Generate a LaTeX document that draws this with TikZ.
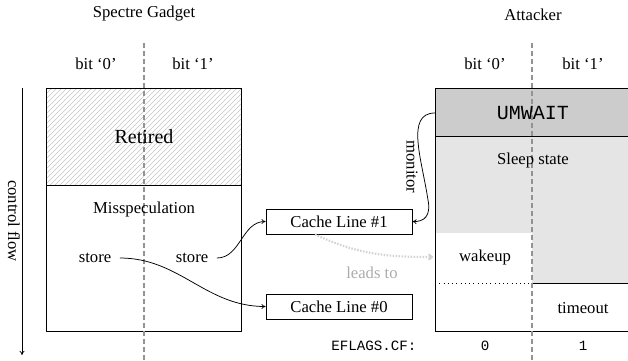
\documentclass[tikz,border=0pt]{standalone}
\usepackage{fontspec}
\setmainfont{Liberation Serif}
\setmonofont{Liberation Mono}
\usetikzlibrary{arrows.meta,patterns,calc}

\begin{document}
\begin{tikzpicture}[x=0.6pt,y=-0.6pt,
  lbl/.style={inner sep=0pt, font=\fontsize{10}{12}\selectfont},
  biglbl/.style={inner sep=0pt, font=\fontsize{12}{14}\selectfont},
  ttlbl/.style={inner sep=0pt, font=\fontsize{8.5}{10}\selectfont\ttfamily},
  divider/.style={draw=gray!85, dash pattern=on 3pt off 1.8pt, line width=0.7pt},
  cachebox/.style={draw, line width=0.5pt, minimum width=87.6pt, minimum height=15pt, inner sep=0pt, fill=white, font=\fontsize{10}{12}\selectfont},
  conn/.style={-{To[length=2.5pt,width=3pt]}, line width=0.45pt},
  leads/.style={-{To[length=3pt,width=4pt]}, draw=gray!35, line width=1.3pt, dash pattern=on 0.9pt off 0.9pt},
  frame/.style={line width=0.55pt}]

\useasboundingbox (0,0) rectangle (628,360);

% Spectre gadget box
\fill[pattern=north east lines, pattern color=gray!45] (46,88) rectangle (241,185);
\draw[frame] (46,88) rectangle (241,331);
\draw[frame] (46,185) -- (241,185);

% Attacker box
\fill[gray!40] (435,88) rectangle (632,136);
\fill[gray!20] (435,136) rectangle (532,233);
\fill[gray!20] (532,136) rectangle (632,283);
\draw[frame] (632,88) -- (435,88) -- (435,331) -- (632,331);
\draw[frame] (435,136) -- (632,136);
\draw[frame] (532,283) -- (632,283);
\draw[frame, dotted] (435,283) -- (532,283);

% dividers
\draw[divider] (144,43) -- (144,360);
\draw[divider] (532,43) -- (532,360);

% titles
\node[lbl] (tSG) at (144,14) {Spectre Gadget};
\node[lbl] (tAt) at (533,15) {Attacker};
\node[lbl] (b0l) at (96,64) {bit `0'};
\node[lbl] (b1l) at (193,64) {bit `1'};
\node[lbl] (b0r) at (485,64) {bit `0'};
\node[lbl] (b1r) at (583,64) {bit `1'};

% gadget texts
\node[biglbl] (ret) at (144,137) {Retired};
\node[lbl] (mis) at (144,209) {Misspeculation};
\node[lbl, inner sep=5pt] (s0) at (95,258) {store};
\node[lbl, inner sep=5pt] (s1) at (192,258) {store};

% cache lines
\node[cachebox] (cl1) at (339,221.5) {Cache Line \#1};
\node[cachebox] (cl0) at (339,306.5) {Cache Line \#0};

% attacker texts
\node[inner sep=0pt, font=\fontsize{12}{14}\selectfont\ttfamily] (umw) at (533,113) {UMWAIT};
\node[lbl] (slp) at (533,160) {Sleep state};
\node[lbl] (wak) at (485,257) {wakeup};
\node[lbl] (tmo) at (583,308) {timeout};
\node[ttlbl] (efl) at (374,346) {EFLAGS.CF:};
\node[ttlbl] (v0) at (485,346) {0};
\node[ttlbl] (v1) at (583,346) {1};

% control flow
\coordinate (cfT) at (22,88);
\coordinate (cfB) at (22,355);
\draw[conn] (cfT) -- (cfB);
\node[lbl, rotate=-90] (cfl) at (14,221) {control flow};

% store arrows
\draw[conn] (s1.east) to[out=0,in=180] (cl1.west);
\draw[conn] (s0.east) to[out=0,in=180] (cl0.west);

% monitor
\coordinate (umwW) at (435,113);
\coordinate (monM) at (428,200);
\draw[conn] (umwW) .. controls (405,113) and (422,160) .. (monM)
  .. controls (431,215) and (425,222) .. (cl1.east);
\node[lbl, rotate=-90] (mon) at (412,167) {monitor};

% leads to
\coordinate (wkW) at (433,257);
\draw[leads] ($(cl1.south)+(-24,0)$) to[out=-25,in=180] (wkW);
\node[lbl, text=gray!65] (lt) at (372,273) {leads to};

\end{tikzpicture}
\end{document}
